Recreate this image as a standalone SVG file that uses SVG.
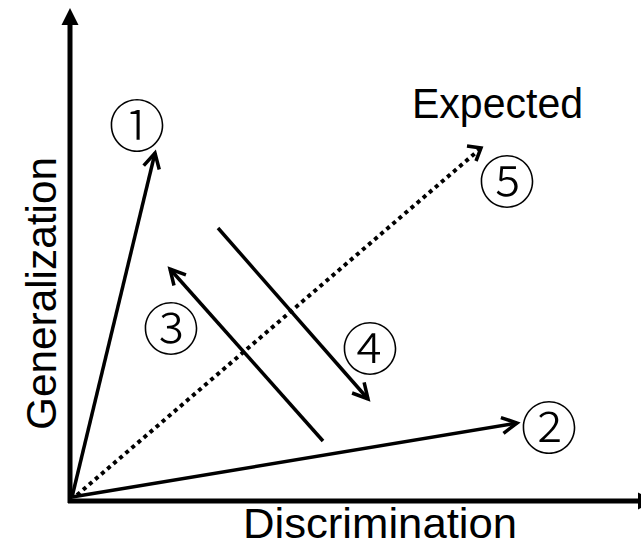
<svg xmlns="http://www.w3.org/2000/svg" width="641" height="547" viewBox="0 0 641 547">
<style>
.lbl{font-family:"Liberation Sans","Open Sans",sans-serif;font-size:42px;fill:#000}
.num{font-family:"Noto Sans CJK JP","Noto Sans CJK SC",sans-serif;font-size:57px;font-weight:300;fill:#000;text-anchor:middle;dominant-baseline:central}
.ln{stroke:#000;stroke-width:3.5;fill:none}
.ax{stroke:#000;stroke-width:5;fill:none}
.dot{stroke:#000;stroke-width:4;fill:none;stroke-dasharray:4 4}
</style>
<defs>
<marker id="open" markerUnits="userSpaceOnUse" markerWidth="30" markerHeight="30" viewBox="-20 -15 30 30" refX="0" refY="0" orient="auto">
<path d="M-15,-8 L0,0 L-15,8" fill="none" stroke="#000" stroke-width="3.5" stroke-linejoin="miter"/>
</marker>
</defs>
<g id="axes">
<line class="ax" x1="70" y1="503" x2="70" y2="24"/>
<polygon points="70,8 61.5,25 78.5,25" fill="#000"/>
<line class="ax" x1="68" y1="501" x2="640" y2="501"/>
<polygon points="655,501 638,492.5 638,509.5" fill="#000"/>
</g>
<g id="connectors">
<line class="ln" x1="72" y1="497" x2="155" y2="153" marker-end="url(#open)"/>
<line class="ln" x1="72" y1="497" x2="517" y2="423" marker-end="url(#open)"/>
<line class="dot" x1="77" y1="495" x2="480" y2="149"/>
<path d="M467,146 L481,148 L476,161" fill="none" stroke="#000" stroke-width="3.5"/>
<line class="ln" x1="323" y1="441" x2="170" y2="269" marker-end="url(#open)"/>
<line class="ln" x1="218" y1="228" x2="368" y2="399" marker-end="url(#open)"/>
</g>
<g id="n1"><text class="num" x="137" y="122">①</text></g>
<g id="n2"><text class="num" x="549" y="424">②</text></g>
<g id="n3"><text class="num" x="171" y="325">③</text></g>
<g id="n4"><text class="num" x="370" y="345">④</text></g>
<g id="n5"><text class="num" x="507" y="178">⑤</text></g>
<g id="expected"><text class="lbl" x="412" y="118" font-size="41" textLength="171" lengthAdjust="spacingAndGlyphs">Expected</text></g>
<g id="xlabel"><text class="lbl" x="243" y="538" font-size="40" textLength="274" lengthAdjust="spacingAndGlyphs">Discrimination</text></g>
<g id="ylabel"><text class="lbl" transform="translate(56,430) rotate(-90)" textLength="273" lengthAdjust="spacingAndGlyphs">Generalization</text></g>
</svg>
